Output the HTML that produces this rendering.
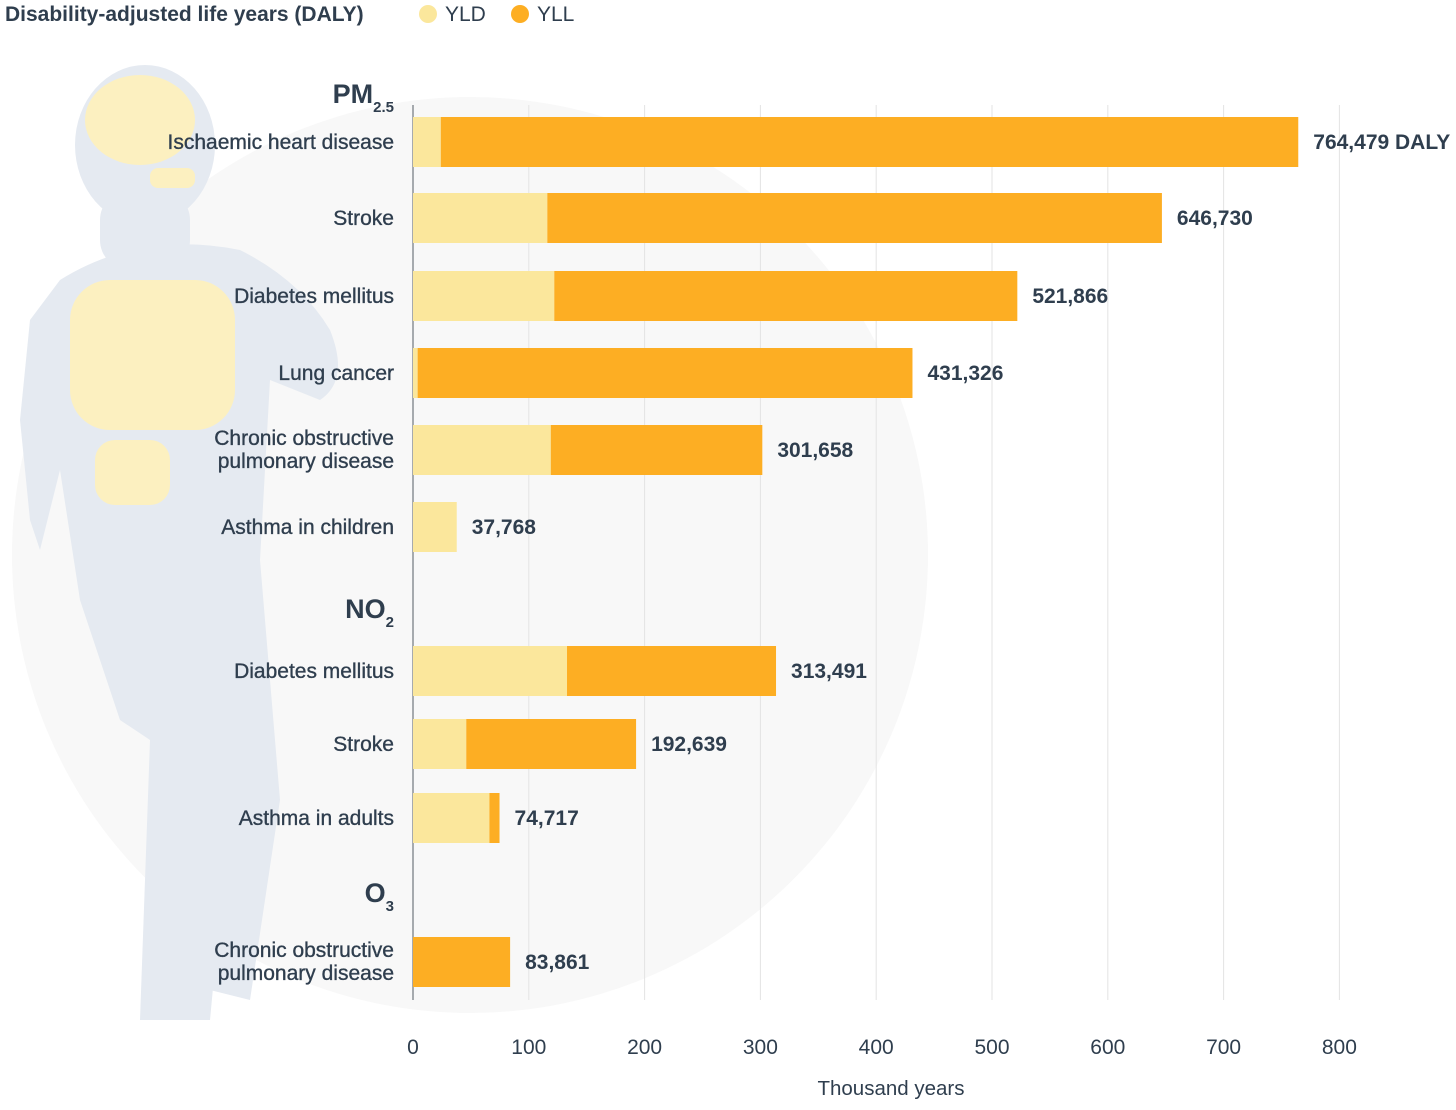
<!DOCTYPE html>
<html><head><meta charset="utf-8"><style>
body{margin:0;width:1456px;height:1105px;background:#fff;overflow:hidden;font-family:"Liberation Sans",sans-serif;}
svg text{font-family:"Liberation Sans",sans-serif;}
</style></head><body>
<svg id="c" width="1456" height="1105">
<circle cx="470" cy="555" r="458" fill="#f8f8f8"/>
<g fill="#e5eaf1">
<ellipse cx="145" cy="145" rx="70" ry="80"/>
<rect x="100" y="190" width="90" height="80" rx="30"/>
<path d="M60 280 Q140 230 240 250 Q300 280 330 330 Q350 380 320 400 L270 380 L260 560 L240 700 L210 1020 L140 1020 L150 740 L120 720 L80 600 L60 470 L40 550 L30 520 L20 420 L30 320 Z"/>
<path d="M180 560 L260 560 L280 800 L250 1000 L210 990 L210 800 Z"/>
</g>
<g fill="#fcf0c0">
<ellipse cx="140" cy="120" rx="55" ry="45"/>
<rect x="70" y="280" width="165" height="150" rx="40"/>
<rect x="95" y="440" width="75" height="65" rx="20"/>
<rect x="150" y="168" width="45" height="20" rx="8"/>
</g>
<text x="5" y="21" font-size="21" font-weight="bold" fill="#2f3e4e">Disability-adjusted life years (DALY)</text>
<circle cx="428" cy="14" r="9" fill="#fbe79c"/>
<text x="445" y="21" font-size="21" fill="#2f3e4e">YLD</text>
<circle cx="520" cy="14" r="9" fill="#fdae23"/>
<text x="537" y="21" font-size="21" fill="#2f3e4e">YLL</text>
<g id="grid"></g><g id="bars"></g><g id="labels"></g>
<text x="891" y="1095" font-size="20.5" fill="#2f3e4e" text-anchor="middle">Thousand years</text>
</svg>
<script>
const categories=["Ischaemic heart disease","Stroke","Diabetes mellitus","Lung cancer","Chronic obstructive|pulmonary disease","Asthma in children","Diabetes mellitus","Stroke","Asthma in adults","Chronic obstructive|pulmonary disease"];
const yldValues=[24,116,122,4,119,37.768,133,46,66,0];
const dalyValues=[764.479,646.730,521.866,431.326,301.658,37.768,313.491,192.639,74.717,83.861];
const valueLabels=["764,479 DALY","646,730","521,866","431,326","301,658","37,768","313,491","192,639","74,717","83,861"];
const rowY=[142,218,296,373,450,527,671,744,818,962];
const ticks=[0,100,200,300,400,500,600,700,800];
const NS="http://www.w3.org/2000/svg";
const x0=413,k=1.158;
const X=v=>x0+v*k;
function mk(t,a,p){const e=document.createElementNS(NS,t);for(const n in a)e.setAttribute(n,a[n]);document.getElementById(p).appendChild(e);return e;}
ticks.forEach(t=>{
 const l=mk('line',{x1:X(t),x2:X(t),y1:105,y2:1000,stroke:t?'#e3e3e3':'#8a8f96','stroke-width':t?1:1.5},'grid');
 
 
 const tx=mk('text',{x:X(t),y:1054,'font-size':21,fill:'#2f3e4e','text-anchor':'middle'},'grid');tx.textContent=t;
 
 
});
categories.forEach((c,i)=>{
 const y=rowY[i]-25,yl=yldValues[i],d=dalyValues[i];
 const b1=mk('rect',{x:X(0),y:y,width:yl*k,height:50,fill:'#fbe79c'},'bars');
 
 
 const b2=mk('rect',{x:X(yl),y:y,width:Math.max(0,(d-yl)*k),height:50,fill:'#fdae23'},'bars');
 
 
 const v=mk('text',{x:X(d)+15,y:rowY[i]+7,'font-size':21,'font-weight':'bold',fill:'#2f3e4e'},'labels');v.textContent=valueLabels[i];
 
 
 const parts=c.split('|');
 parts.forEach((p,j)=>{
  const t=mk('text',{x:394,y:rowY[i]+7+(parts.length>1?(j?11:-12):0),'font-size':21,fill:'#2f3e4e','text-anchor':'end',stroke:'#2f3e4e','stroke-width':0.35},'labels');t.textContent=p;
  
  
 });
});
const groups=[["PM","2.5",103],["NO","2",618],["O","3",902]];
groups.forEach((g,i)=>{
 const t=mk('text',{x:394,y:g[2],'font-size':27,'font-weight':'bold',fill:'#2f3e4e','text-anchor':'end'},'labels');
 t.innerHTML=g[0]+'<tspan dy="9" font-size="15">'+g[1]+'</tspan>';
 
 
});
</script>
</body></html>
